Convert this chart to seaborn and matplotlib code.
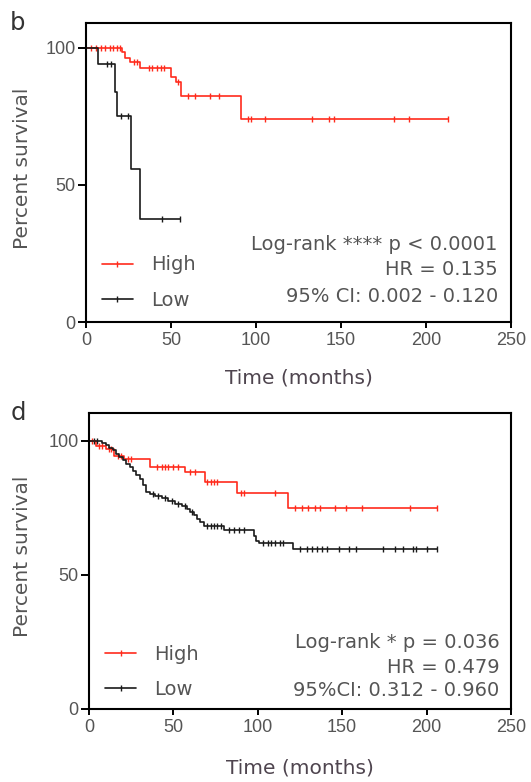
import numpy as np
import matplotlib
matplotlib.use("Agg")
import matplotlib.pyplot as plt
import seaborn as sns
from matplotlib.lines import Line2D

# panel b: step times (months) and percent survival after each step
b_high_times = [0, 21, 23, 26, 32, 50, 53, 56, 91, 213]
b_high_surv = [100, 98.5, 96.5, 95, 92.5, 89.5, 87.5, 82.5, 74, 74]
b_high_censor = [3, 6, 9, 11, 14, 16, 18, 20, 28, 30, 37, 39, 42, 44, 46, 54,
                 60, 64, 73, 78, 95, 97, 105, 133, 143, 146, 181, 190, 213]

b_low_times = [0, 7, 17, 18.5, 26.5, 32, 55]
b_low_surv = [100, 94, 84, 75, 56, 37.5, 37.5]
b_low_censor = [12.5, 14.5, 20.5, 24.5, 44.5, 55]

# panel d
d_high_times = [0, 4, 10, 15, 21, 36, 57, 68.5, 87.5, 118, 206]
d_high_surv = [100, 98, 97, 94.5, 93.2, 90.3, 88.2, 84.8, 80.6, 75, 75]
d_high_censor = [2, 6, 8, 12, 13, 17, 19, 23, 25, 40, 43, 45, 47, 50, 53, 60, 63,
                 70, 72, 74, 76, 90, 92, 110, 122, 126, 130, 134, 137, 146, 152,
                 162, 190, 206]

d_low_times = [0, 8, 10, 12, 14, 16, 18, 20, 22, 24, 26, 28, 30, 32, 34, 36, 39,
               43, 47, 51, 55, 58, 60, 62, 64, 66, 68, 80, 97.5, 99, 101, 121, 206]
d_low_surv = [100, 99.2, 98.4, 97.5, 96.5, 95.2, 94, 92.8, 91.5, 90.2, 88.8, 87.3,
              85.6, 83.5, 81, 80, 79.3, 78.6, 77.6, 76.6, 75.6, 74.4, 73.4, 72.2,
              71, 69.6, 68.3, 66.8, 64.5, 62.8, 62, 59.7, 59.7]
d_low_censor = [3, 5, 38, 41, 45, 49, 53, 57, 61, 70, 72, 74, 76, 78, 83, 86, 89,
                92, 103, 106, 108, 110, 113, 115, 125, 129, 132, 135, 138, 141, 148,
                154, 158, 174, 181, 186, 192, 194, 200, 206]

b_stats = ["Log-rank **** p < 0.0001", "HR = 0.135", "95% CI: 0.002 - 0.120"]
d_stats = ["Log-rank * p = 0.036", "HR = 0.479", "95%CI: 0.312 - 0.960"]
group_labels = ["High", "Low"]

RED = "#ff2b1c"
BLACK = "#1a1a1a"
TXT = "#555555"
WIDE = ["DejaVu Sans"]

sns.set_theme(style="ticks")
plt.rcParams["font.family"] = ["Liberation Sans", "DejaVu Sans"]


def surv_at(times, surv, t):
    idx = np.searchsorted(times, t, side="right") - 1
    return np.asarray(surv)[idx]


def km_panel(ax, curves, stats, stat_x, stat_y, leg_xy, ymax):
    for times, surv, cens, col in curves:
        sns.lineplot(x=times, y=surv, ax=ax, color=col, lw=1.2,
                     drawstyle="steps-post", estimator=None, sort=False)
        sns.scatterplot(x=cens, y=surv_at(times, surv, cens), ax=ax,
                        marker="|", color=col, s=14, linewidth=1.0)
    ax.set_xlim(0, 250)
    ax.set_ylim(0, ymax)
    ax.set_xticks([0, 50, 100, 150, 200, 250])
    ax.set_yticks([0, 50, 100])
    for sp in ax.spines.values():
        sp.set_visible(True)
        sp.set_linewidth(1.5)
        sp.set_color("black")
    ax.tick_params(direction="out", width=1.4, labelsize=13,
                   labelcolor=TXT, color="black")
    ax.tick_params(axis="x", length=4.3, pad=3)
    ax.tick_params(axis="y", length=6, pad=1.5)
    ax.set_xlabel("Time (months)", fontsize=14.5, color="#4f454f", family=WIDE)
    ax.set_ylabel("Percent survival", fontsize=14.5, color=TXT, family=WIDE)
    for s, y in zip(stats, stat_y):
        ax.text(stat_x, y, s, transform=ax.transAxes, ha="right", va="center",
                fontsize=14, color=TXT, family=WIDE)
    handles = [Line2D([], [], color=RED, lw=1.2, marker="|", markersize=5),
               Line2D([], [], color=BLACK, lw=1.2, marker="|", markersize=5)]
    ax.legend(handles, group_labels, loc="lower left", bbox_to_anchor=leg_xy,
              frameon=False, prop={"family": WIDE, "size": 14}, labelcolor=TXT,
              handlelength=1.6, handletextpad=0.95, labelspacing=0.84,
              borderpad=0, borderaxespad=0, numpoints=1)


fig = plt.figure(figsize=(5.31, 7.82), dpi=100)
ax_b = fig.add_axes([0.162, 0.5882, 0.8004, 0.3824])
ax_d = fig.add_axes([0.1676, 0.0934, 0.7947, 0.3785])

km_panel(ax_b, [(b_high_times, b_high_surv, b_high_censor, RED),
                (b_low_times, b_low_surv, b_low_censor, BLACK)],
         b_stats, 0.969, [0.260, 0.175, 0.084], (0.037, 0.041), 109.1)
km_panel(ax_d, [(d_high_times, d_high_surv, d_high_censor, RED),
                (d_low_times, d_low_surv, d_low_censor, BLACK)],
         d_stats, 0.973, [0.224, 0.139, 0.064], (0.038, 0.034), 110.4)

for ax, yl, xl in [(ax_b, -0.157, -0.127), (ax_d, -0.169, -0.136)]:
    ax.xaxis.set_label_coords(0.5, yl)
    ax.yaxis.set_label_coords(xl, 0.515)

fig.text(17.6 / 531, 1 - 23 / 782, "b", fontsize=17.5, color="#333333",
         ha="center", va="center", family=WIDE)
fig.text(18.5 / 531, 1 - 412.7 / 782, "d", fontsize=17.5, color="#333333",
         ha="center", va="center", family=WIDE)

fig.savefig("out.png", dpi=100)
